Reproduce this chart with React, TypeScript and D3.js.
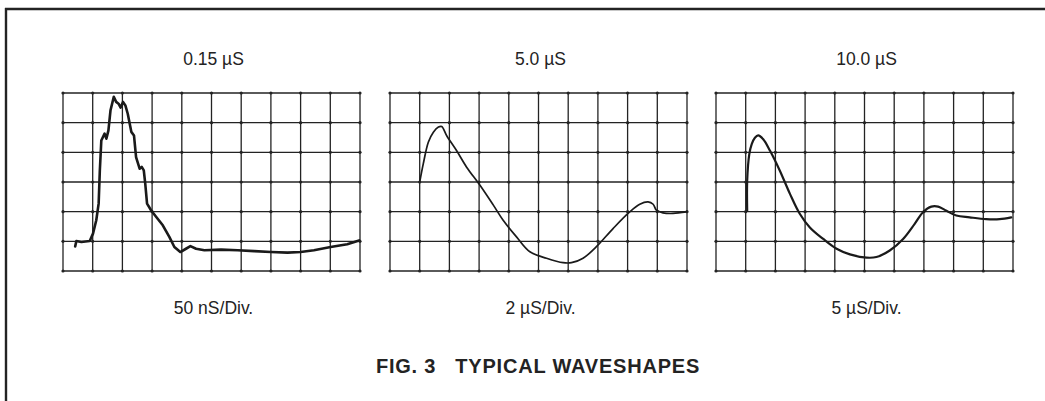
import React from "react";
import * as d3 from "d3";

// titles above / sweep labels below each screen
const titles = ["0.15 µS", "5.0 µS", "10.0 µS"];
const sweeps = ["50 nS/Div.", "2 µS/Div.", "5 µS/Div."];
const caption = "FIG. 3   TYPICAL WAVESHAPES";

// waveforms in graticule divisions (x: 0..10, y: 0..6 from bottom)
const wave1X = [0.41, 0.45, 0.62, 0.9, 1.01, 1.12, 1.2, 1.24, 1.29, 1.4, 1.46, 1.53, 1.6, 1.71, 1.79, 1.87, 1.94, 2.02, 2.1, 2.18, 2.3, 2.39, 2.46, 2.58, 2.65, 2.72, 2.77, 2.83, 2.97, 3.14, 3.36, 3.58, 3.75, 3.95, 4.14, 4.29, 4.48, 4.76, 5.32, 5.88, 6.44, 7.0, 7.56, 8.0, 8.45, 9.01, 9.57, 9.97];
const wave1Y = [0.83, 1.01, 0.98, 1.01, 1.26, 1.71, 2.27, 3.39, 4.4, 4.63, 4.46, 4.74, 5.42, 5.87, 5.7, 5.64, 5.51, 5.7, 5.58, 5.3, 4.69, 4.57, 3.84, 3.45, 3.51, 3.39, 2.94, 2.27, 2.04, 1.82, 1.54, 1.15, 0.81, 0.64, 0.75, 0.84, 0.75, 0.7, 0.72, 0.7, 0.67, 0.64, 0.62, 0.64, 0.7, 0.81, 0.9, 1.03];

const wave2X = [1.01, 1.12, 1.29, 1.46, 1.63, 1.74, 1.91, 2.24, 2.58, 3.03, 3.48, 3.81, 4.26, 4.71, 5.27, 5.83, 6.11, 6.5, 6.95, 7.51, 8.07, 8.41, 8.69, 8.86, 8.97, 9.19, 9.53, 9.98];
const wave2Y = [3.05, 3.61, 4.34, 4.68, 4.85, 4.87, 4.56, 4.06, 3.5, 2.89, 2.22, 1.71, 1.15, 0.65, 0.43, 0.28, 0.28, 0.43, 0.82, 1.43, 1.99, 2.25, 2.33, 2.25, 2.05, 1.96, 1.94, 1.99];

const wave3X = [1.05, 1.05, 1.12, 1.2, 1.31, 1.42, 1.59, 1.82, 2.15, 2.49, 2.82, 3.16, 3.61, 4.06, 4.51, 5.07, 5.4, 5.85, 6.3, 6.69, 6.97, 7.25, 7.48, 7.76, 8.09, 8.54, 9.1, 9.55, 9.94];
const wave3Y = [2.03, 3.04, 3.93, 4.27, 4.49, 4.57, 4.44, 4.05, 3.38, 2.6, 1.93, 1.47, 1.08, 0.75, 0.56, 0.45, 0.47, 0.69, 1.08, 1.59, 1.98, 2.17, 2.17, 2.03, 1.87, 1.81, 1.75, 1.75, 1.81];

const waves = [
  { xs: wave1X, ys: wave1Y, width: 2.6, smooth: false },
  { xs: wave2X, ys: wave2Y, width: 1.7, smooth: true },
  { xs: wave3X, ys: wave3Y, width: 2.2, smooth: true },
];

const INK = "#232323";
const panelLefts = [63, 390, 716];
const panelW = 297;
const top = 93;
const bottom = 271;
const xDivs = d3.range(0, 11);
const yDivs = d3.range(0, 7);

function Screen({ idx }: { idx: number }) {
  const left = panelLefts[idx];
  const x = d3.scaleLinear().domain([0, 10]).range([left, left + panelW]);
  const y = d3.scaleLinear().domain([0, 6]).range([bottom, top]);
  const w = waves[idx];
  const pts: [number, number][] = w.xs.map((v, i) => [v, w.ys[i]]);
  const line = d3
    .line<[number, number]>()
    .x((d) => x(d[0]))
    .y((d) => y(d[1]))
    .curve(w.smooth ? d3.curveCatmullRom.alpha(0.5) : d3.curveLinear);

  return (
    <g>
      {xDivs.map((d) => (
        <line key={"v" + d} x1={x(d)} x2={x(d)} y1={y(0)} y2={y(6)} stroke={INK} strokeWidth={1.3} />
      ))}
      {yDivs.map((d) => (
        <line key={"h" + d} x1={x(0)} x2={x(10)} y1={y(d)} y2={y(d)} stroke={INK} strokeWidth={1.3} />
      ))}
      {xDivs.map((a) =>
        yDivs.map((b) => (
          <circle key={a + "-" + b} cx={x(a)} cy={y(b)} r={1.6} fill={INK} />
        ))
      )}
      <path d={line(pts) || ""} fill="none" stroke="#1a1a1a" strokeWidth={w.width} strokeLinejoin="round" strokeLinecap="round" />
      <text x={x(5) + 2} y={65} textAnchor="middle" fontSize={17.5} fill={INK}>
        {titles[idx]}
      </text>
      <text x={x(5) + 2} y={314} textAnchor="middle" fontSize={17.5} fill={INK}>
        {sweeps[idx]}
      </text>
    </g>
  );
}

export default function App() {
  return (
    <svg
      width={1045}
      height={401}
      style={{ position: "absolute", left: 0, top: 0, background: "#fff" }}
      fontFamily="'Liberation Sans', Arial, sans-serif"
    >
      <line x1={5} x2={1045} y1={9} y2={9} stroke={INK} strokeWidth={2.6} />
      <line x1={6} x2={6} y1={8} y2={401} stroke={INK} strokeWidth={2.4} />
      {[0, 1, 2].map((i) => (
        <Screen key={i} idx={i} />
      ))}
      <text
        x={538}
        y={373}
        textAnchor="middle"
        fontSize={20}
        fontWeight="bold"
        letterSpacing={0.8}
        fill={INK}
        style={{ whiteSpace: "pre" }}
      >
        {caption}
      </text>
    </svg>
  );
}
